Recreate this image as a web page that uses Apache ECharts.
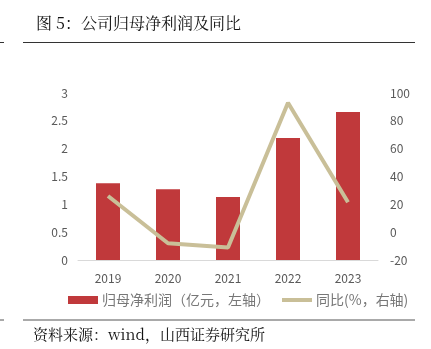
<!DOCTYPE html>
<html><head><meta charset="utf-8">
<script src="https://cdn.jsdelivr.net/npm/echarts@6/dist/echarts.min.js"></script>
<style>html,body{margin:0;padding:0;background:#fff}#c{width:431px;height:349px}</style>
</head><body><div id="c"></div>
<script>
const categories = ['2019','2020','2021','2022','2023'];
const profit = [1.38, 1.27, 1.13, 2.19, 2.66];
const yoy = [26, -8, -11, 93, 21.5];
const leftTicks = {min:0, max:3, interval:0.5};
const rightTicks = {min:-20, max:100, interval:20};

const chart = echarts.init(document.getElementById('c'), null, {renderer:'canvas'});
const font = '"Noto Sans CJK SC", "Noto Sans", sans-serif';
chart.setOption({
  animation:false,
  backgroundColor:'#fff',
  title:{text:'图 5：公司归母净利润及同比', left:31, top:10,
    textStyle:{fontFamily:'"Noto Serif CJK SC","Noto Sans CJK SC",serif', fontSize:16, fontWeight:'normal', color:'#111'}},
  graphic:[
    {type:'line', shape:{x1:0,y1:42.5,x2:4,y2:42.5}, style:{stroke:'#333',lineWidth:1}},
    {type:'line', shape:{x1:23,y1:42.5,x2:415,y2:42.5}, style:{stroke:'#333',lineWidth:1}},
    {type:'line', shape:{x1:0,y1:320,x2:4,y2:320}, style:{stroke:'#555',lineWidth:1}},
    {type:'line', shape:{x1:23,y1:320,x2:415,y2:320}, style:{stroke:'#555',lineWidth:1}},
    {type:'text', left:33, top:327, style:{text:'资料来源：wind，山西证券研究所', fill:'#111', fontSize:15, fontFamily:'"Noto Serif CJK SC","Noto Sans CJK SC",serif'}}
  ],
  legend:{left:63, top:288, itemGap:10, itemWidth:30, itemHeight:8,
    textStyle:{color:'#777', fontSize:14, fontFamily:font, padding:[0,0,0,-1]},
    data:[{name:'归母净利润（亿元，左轴）', icon:'rect'},
      {name:'同比(%，右轴)', itemStyle:{color:'rgba(0,0,0,0)', borderColor:'rgba(0,0,0,0)', borderWidth:0},
       lineStyle:{color:'#c9bf98', width:4}}]},
  grid:{left:78, right:53, top:93, bottom:89, containLabel:false},
  xAxis:{type:'category', data:categories,
    axisLine:{lineStyle:{color:'#d9d9d9'}}, axisTick:{show:false},
    axisLabel:{color:'#595959', fontSize:12, fontFamily:font, margin:12}},
  yAxis:[
    {type:'value', min:leftTicks.min, max:leftTicks.max, interval:leftTicks.interval,
      splitLine:{show:false}, axisLine:{show:false}, axisTick:{show:false},
      axisLabel:{color:'#595959', fontSize:12, fontFamily:font, margin:10}},
    {type:'value', min:rightTicks.min, max:rightTicks.max, interval:rightTicks.interval,
      splitLine:{show:false}, axisLine:{show:false}, axisTick:{show:false},
      axisLabel:{color:'#595959', fontSize:12, fontFamily:font, margin:12}}
  ],
  series:[
    {name:'归母净利润（亿元，左轴）', type:'bar', data:profit, barWidth:24, yAxisIndex:0,
      itemStyle:{color:'#c0393b'}},
    {name:'同比(%，右轴)', type:'line', data:yoy, yAxisIndex:1, symbol:'none',
      lineStyle:{color:'#c9bf98', width:4}, itemStyle:{color:'#c9bf98'}}
  ]
});
</script></body></html>
